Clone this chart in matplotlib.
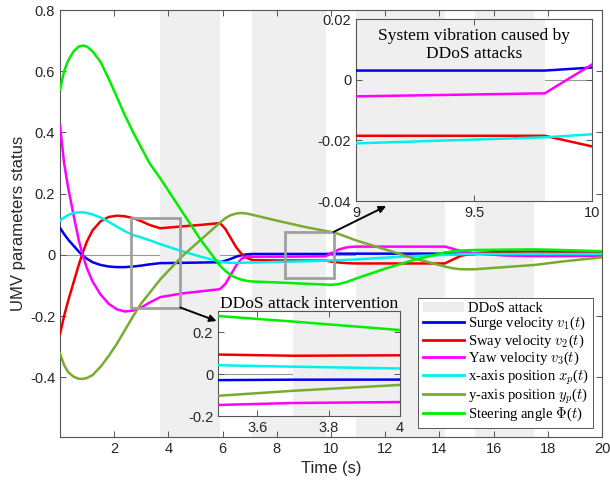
import matplotlib
matplotlib.use("Agg")
import matplotlib.pyplot as plt
from matplotlib.patches import Rectangle, Patch
from matplotlib.lines import Line2D

plt.rcParams['font.family'] = ['Liberation Sans', 'DejaVu Sans']
plt.rcParams['mathtext.fontset'] = 'cm'

# time samples
t = [0, 0.15, 0.3, 0.5, 0.7, 0.85, 1.0, 1.2, 1.5, 1.8, 2.1, 2.4, 2.7, 3.0, 3.3, 3.7,
     4.5, 5.2, 5.9, 6.1, 6.3, 6.5, 6.7, 6.9, 7.1, 8.0, 9.0, 9.8, 10.0, 10.3, 10.6, 10.9,
     12.0, 13.0, 14.2, 14.5, 14.8, 15.3, 16.4, 17.5, 18.5, 20]

surge = [0.088, 0.068, 0.05, 0.03, 0.01, -0.003, -0.013, -0.024, -0.033, -0.038, -0.04, -0.04,
         -0.038, -0.035, -0.031, -0.027, -0.026, -0.025, -0.024, -0.019, -0.013, -0.006, -0.001,
         0.002, 0.003, 0.003, 0.003, 0.003, 0.004, 0.004, 0.004, 0.004, 0.004, 0.004, 0.004,
         0.004, 0.004, 0.003, 0.003, 0.003, 0.002, 0.002]
sway = [-0.258, -0.2, -0.15, -0.09, -0.03, 0.01, 0.045, 0.08, 0.11, 0.124, 0.128, 0.126, 0.12,
        0.11, 0.098, 0.087, 0.093, 0.098, 0.104, 0.085, 0.055, 0.025, 0.003, -0.01, -0.017,
        -0.018, -0.0185, -0.0185, -0.022, -0.025, -0.027, -0.028, -0.028, -0.028, -0.028,
        -0.015, -0.003, 0.006, 0.01, 0.011, 0.01, 0.007]
yaw = [0.422, 0.30, 0.22, 0.13, 0.045, -0.005, -0.045, -0.087, -0.13, -0.16, -0.178, -0.185,
       -0.182, -0.172, -0.156, -0.138, -0.126, -0.119, -0.112, -0.095, -0.065, -0.035, -0.012,
       -0.006, -0.006, -0.0058, -0.0055, -0.0045, 0.005, 0.018, 0.025, 0.027, 0.027, 0.027,
       0.027, 0.02, 0.012, 0.005, -0.002, -0.004, -0.004, -0.003]
xpos = [0.112, 0.122, 0.13, 0.137, 0.139, 0.139, 0.137, 0.132, 0.122, 0.108, 0.092, 0.077,
        0.065, 0.057, 0.048, 0.035, 0.012, -0.006, -0.022, -0.025, -0.026, -0.026, -0.026,
        -0.025, -0.025, -0.023, -0.021, -0.019, -0.018, -0.017, -0.016, -0.015, -0.009, -0.004,
        0.0, 0.001, 0.002, 0.003, 0.003, 0.003, 0.003, 0.003]
ypos = [-0.322, -0.36, -0.383, -0.398, -0.405, -0.405, -0.402, -0.393, -0.365, -0.33, -0.29,
        -0.245, -0.2, -0.158, -0.125, -0.08, -0.005, 0.05, 0.105, 0.12, 0.13, 0.135, 0.137,
        0.135, 0.131, 0.112, 0.092, 0.078, 0.075, 0.068, 0.058, 0.048, 0.018, -0.01, -0.038,
        -0.044, -0.047, -0.047, -0.04, -0.033, -0.022, -0.008]
steer = [0.54, 0.60, 0.635, 0.665, 0.681, 0.684, 0.68, 0.665, 0.63, 0.575, 0.515, 0.455, 0.40,
         0.35, 0.30, 0.25, 0.142, 0.048, -0.035, -0.052, -0.066, -0.075, -0.081, -0.085, -0.087,
         -0.09, -0.094, -0.097, -0.098, -0.095, -0.088, -0.078, -0.045, -0.018, 0.008, 0.012,
         0.014, 0.016, 0.017, 0.018, 0.016, 0.012]

attacks = [(3.7, 5.9), (7.07, 9.8), (10.93, 14.2), (15.3, 17.5)]

series = [surge, sway, yaw, xpos, ypos, steer]
labels = [r"Surge velocity $v_1$($t$)", r"Sway velocity $v_2$($t$)", r"Yaw velocity $v_3$($t$)",
          r"x-axis position $x_p$($t$)", r"y-axis position $y_p$($t$)", r"Steering angle $\Phi$($t$)"]
colors = ['#0000ee', '#ee0000', '#ff00ff', '#00f0f0', '#77ac30', '#00ee00']

zoom1 = (8.3, 10.1, -0.075, 0.075)   # vibration box
zoom2 = (2.63, 4.44, -0.172, 0.122)  # intervention box

shade = '#efefef'
edge = '#555555'


def style(ax, size=10.5):
    for s in ax.spines.values():
        s.set_color(edge)
        s.set_linewidth(0.8)
    ax.tick_params(direction='in', top=True, right=True, labelsize=size,
                   colors=edge, labelcolor='#262626', length=4, width=0.7)


def draw(ax, lw=1.8):
    ax.axhline(0, color='#999999', lw=0.8, zorder=0.5)
    for a, b in attacks:
        ax.axvspan(a, b, color=shade, lw=0, zorder=1)
    for y, c, lab in zip(series, colors, labels):
        ax.plot(t, y, color=c, lw=lw, label=lab, zorder=3)


fig = plt.figure(figsize=(6.1, 4.86), dpi=100)
ax = fig.add_axes([0.0984, 0.1008, 0.8885, 0.8786])
draw(ax)
ax.set_xlim(0, 20)
ax.set_ylim(-0.595, 0.8)
ax.set_xticks([2, 4, 6, 8, 10, 12, 14, 16, 18, 20])
ax.set_yticks([-0.4, -0.2, 0, 0.2, 0.4, 0.6, 0.8])
ax.set_yticklabels(['-0.4', '-0.2', '0', '0.2', '0.4', '0.6', '0.8'])
style(ax)
ax.set_xlabel('Time (s)', fontsize=12, color='#262626', labelpad=4)
ax.set_ylabel('UMV parameters status', fontsize=12, color='#262626', labelpad=3)

for x0, x1, y0, y1 in (zoom1, zoom2):
    ax.add_patch(Rectangle((x0, y0), x1 - x0, y1 - y0, fill=False, ec='#a0a0a0', lw=2, zorder=4))

handles = [Patch(fc='#ececec', ec='none')] + [Line2D([], [], color=c, lw=2) for c in colors]
leg = ax.legend(handles, ['DDoS attack'] + labels, loc='lower right', bbox_to_anchor=(0.984, 0.022),
                prop={'family': 'Liberation Serif', 'size': 10.5}, fancybox=False, framealpha=1,
                edgecolor=edge, handlelength=2.8, labelspacing=0.0, borderpad=0.3,
                handletextpad=0.3, borderaxespad=0)
leg.get_frame().set_linewidth(0.7)
leg.set_zorder(6)

# inset: vibration
ax1 = fig.add_axes([0.5836, 0.5864, 0.3869, 0.3745])
draw(ax1)
ax1.set_xlim(9, 10)
ax1.set_ylim(-0.04, 0.02)
ax1.set_xticks([9, 9.5, 10])
ax1.set_xticklabels(['9', '9.5', '10'])
ax1.set_yticks([-0.04, -0.02, 0, 0.02])
ax1.set_yticklabels(['-0.04', '-0.02', '0', '0.02'])
style(ax1)
ax1.text(0.5, 0.95, 'System vibration caused by\nDDoS attacks', transform=ax1.transAxes,
         ha='center', va='top', family='Liberation Serif', fontsize=12.5, linespacing=1.15, zorder=5)

# inset: intervention
ax2 = fig.add_axes([0.3574, 0.144, 0.2984, 0.216])
draw(ax2)
ax2.set_xlim(3.49, 4.0)
ax2.set_ylim(-0.2, 0.3)
ax2.set_xticks([3.6, 3.8, 4.0])
ax2.set_xticklabels(['3.6', '3.8', '4'])
ax2.set_yticks([-0.2, 0, 0.2])
ax2.set_yticklabels(['-0.2', '0', '0.2'])
style(ax2)
ax2.set_title('DDoS attack intervention', family='Liberation Serif', fontsize=12.5, pad=2)

# arrows from zoom boxes to insets
ax.annotate('', xy=(0.633, 0.576), xycoords='figure fraction',
            xytext=(zoom1[1], zoom1[3]), textcoords='data',
            arrowprops=dict(arrowstyle='-|>', color='black', lw=1.4, mutation_scale=10,
                            shrinkA=0, shrinkB=0), zorder=7, annotation_clip=False)
ax.annotate('', xy=(0.355, 0.3395), xycoords='figure fraction',
            xytext=(zoom2[1], zoom2[2]), textcoords='data',
            arrowprops=dict(arrowstyle='-|>', color='black', lw=1.4, mutation_scale=10,
                            shrinkA=0, shrinkB=0), zorder=7, annotation_clip=False)

fig.savefig('out.png', dpi=100)
